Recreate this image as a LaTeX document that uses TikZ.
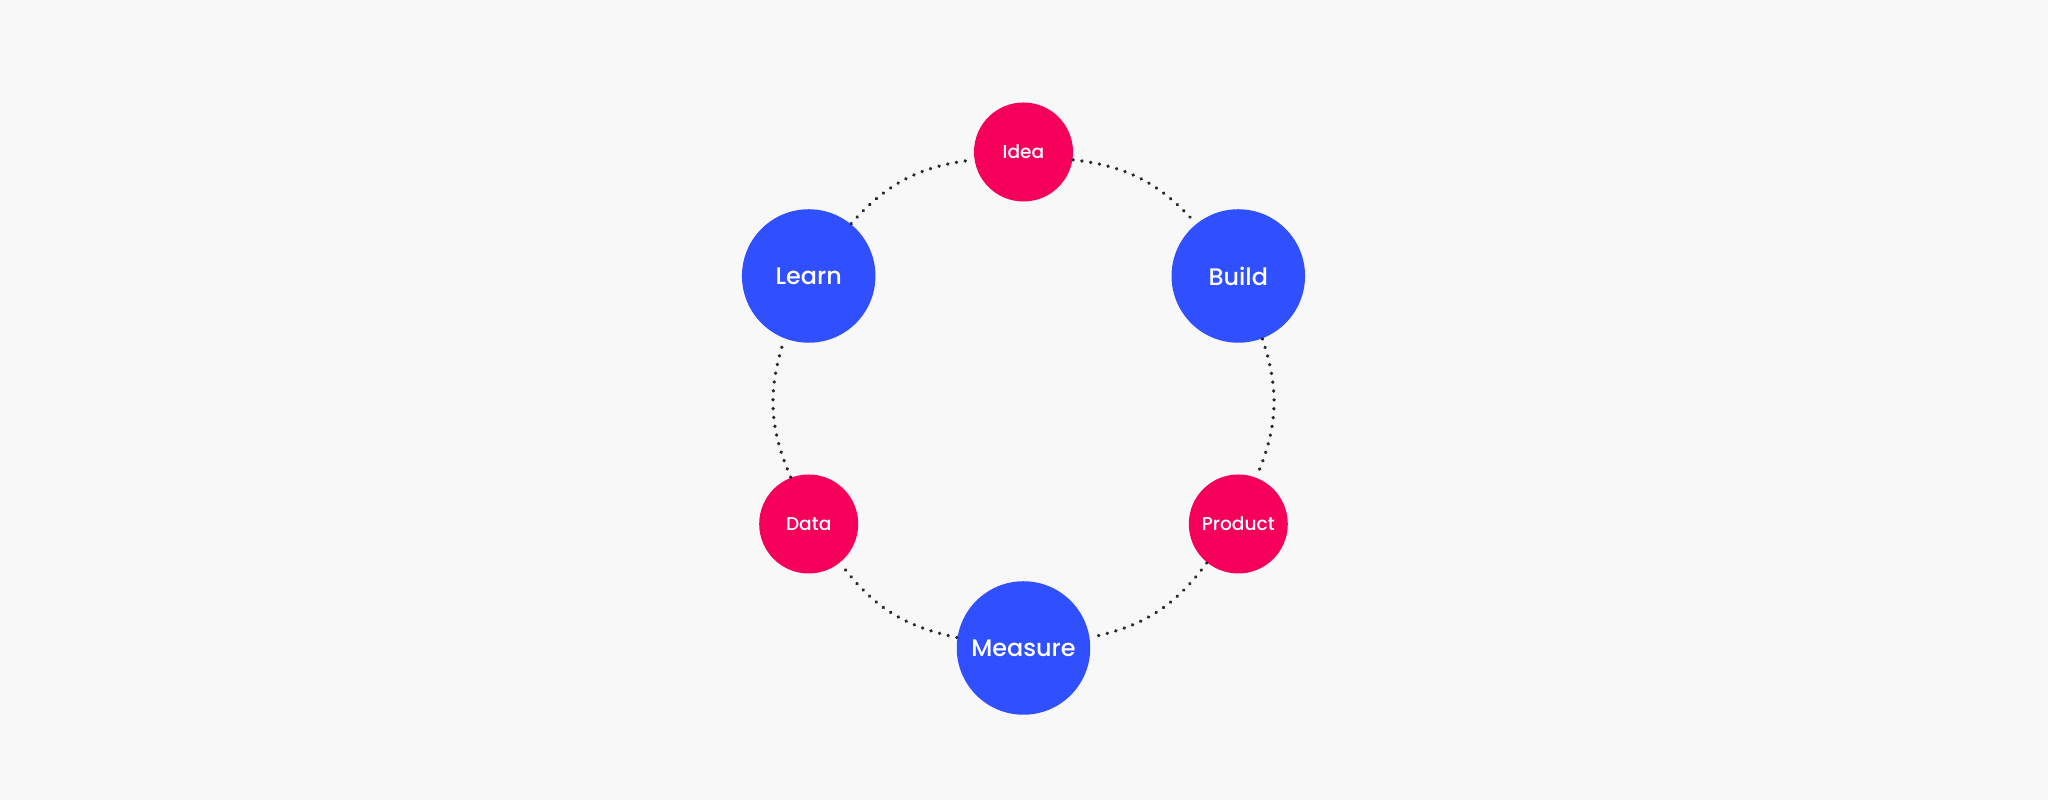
\documentclass[tikz,border=0pt]{standalone}
\usepackage{fontspec}
\setmainfont{Poppins}[UprightFont=* Medium]
\definecolor{bgcolor}{RGB}{248,248,248}
\definecolor{stepcolor}{RGB}{48,80,255}
\definecolor{itemcolor}{RGB}{245,0,90}
\definecolor{dotcolor}{RGB}{40,40,40}

\tikzset{
  stepnode/.style={circle, fill=stepcolor, text=white, minimum size=1.335cm, inner sep=0pt, font=\fontsize{6.8}{8}\selectfont},
  itemnode/.style={circle, fill=itemcolor, text=white, minimum size=0.99cm, inner sep=0pt, font=\fontsize{5.3}{6}\selectfont},
  loopline/.style={draw=dotcolor, line width=1.05pt, line cap=round, dash pattern=on 0.01pt off 2.52pt, bend left=21, looseness=1.0}
}

\begin{document}
\begin{tikzpicture}
\fill[bgcolor] (0,0) rectangle (20.48,8.00);
\useasboundingbox (0,0) rectangle (20.48,8.00);
% nodes around the loop
\node[itemnode] (idea) at (10.235,6.48) {Idea};
\node[stepnode] (build) at (12.383,5.24) {Build};
\node[itemnode] (product) at (12.383,2.76) {Product};
\node[stepnode] (measure) at (10.235,1.52) {Measure};
\node[itemnode] (data) at (8.087,2.76) {Data};
\node[stepnode] (learn) at (8.087,5.24) {Learn};
% dotted arcs
\draw[loopline] (idea) to (build);
\draw[loopline] (build) to (product);
\draw[loopline] (product) to (measure);
\draw[loopline] (measure) to (data);
\draw[loopline] (data) to (learn);
\draw[loopline] (learn) to (idea);
\end{tikzpicture}
\end{document}
